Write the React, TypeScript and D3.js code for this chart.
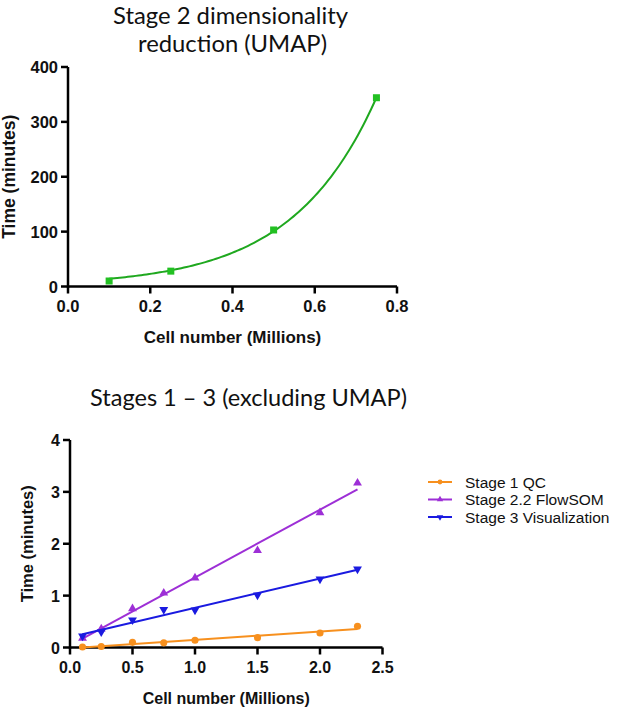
import React, { useEffect } from 'react';
import * as d3 from 'd3';

// Stage 2 (UMAP) timings
const umapCells = [0.1, 0.25, 0.5, 0.75];
const umapTime = [10, 28, 103, 344];
const umapXTicks = [0, 0.2, 0.4, 0.6, 0.8];
const umapYTicks = [0, 100, 200, 300, 400];

// Stages 1-3 timings
const stageCells = [0.1, 0.25, 0.5, 0.75, 1.0, 1.5, 2.0, 2.3];
const qcTime = [0.01, 0.02, 0.1, 0.09, 0.14, 0.19, 0.28, 0.41];
const flowsomTime = [0.18, 0.36, 0.75, 1.05, 1.34, 1.87, 2.6, 3.17];
const vizTime = [0.22, 0.3, 0.53, 0.73, 0.72, 1.01, 1.32, 1.51];
const stageXTicks = [0, 0.5, 1.0, 1.5, 2.0, 2.5];
const stageYTicks = [0, 1, 2, 3, 4];
const seriesNames = ['Stage 1 QC', 'Stage 2.2 FlowSOM', 'Stage 3 Visualization'];
const seriesColors = ['#f7901e', '#9d2fd6', '#1a1ae0'];
const seriesShapes = [d3.symbolCircle, d3.symbolTriangle, d3.symbolTriangle];

const AXIS_FONT = 'Arial, "Liberation Sans", sans-serif';
const TITLE_FONT = 'Lato, "Open Sans", sans-serif';

// least squares y = a*exp(b*x), a solved for each b
const expFit = (xs: number[], ys: number[]) => {
  let best = { a: 0, b: 0, sse: Infinity };
  for (let b = 0.5; b <= 12; b += 0.01) {
    const num = d3.sum(xs, (x, i) => ys[i] * Math.exp(b * x));
    const den = d3.sum(xs, x => Math.exp(2 * b * x));
    const a = num / den;
    const sse = d3.sum(xs, (x, i) => (ys[i] - a * Math.exp(b * x)) ** 2);
    if (sse < best.sse) best = { a, b, sse };
  }
  return (x: number) => best.a * Math.exp(best.b * x);
};

const linFit = (xs: number[], ys: number[]) => {
  const mx = d3.mean(xs)!;
  const my = d3.mean(ys)!;
  const sxy = d3.sum(xs, (x, i) => (x - mx) * (ys[i] - my));
  const sxx = d3.sum(xs, x => (x - mx) ** 2);
  const slope = sxy / sxx;
  return (x: number) => my + slope * (x - mx);
};

const Axes = ({ x, y, xTicks, yTicks, xFmt, yFmt, xTitle, yTitle, yTitleX, tickSize, titleSize }: any) => {
  const [x0, x1] = x.range();
  const [y0, y1] = y.range();
  return (
    <g fontFamily={AXIS_FONT} fontWeight="bold" fill="#111">
      <line x1={x0} x2={x1} y1={y0} y2={y0} stroke="#000" strokeWidth={2.5} />
      <line x1={x0} x2={x0} y1={y0 + 1.2} y2={y1} stroke="#000" strokeWidth={2.5} />
      {xTicks.map((t: number) => (
        <g key={'x' + t}>
          <line x1={x(t)} x2={x(t)} y1={y0} y2={y0 + 7} stroke="#000" strokeWidth={2.5} />
          <text x={x(t)} y={y0 + 25} fontSize={tickSize} textAnchor="middle">{xFmt(t)}</text>
        </g>
      ))}
      {yTicks.map((t: number) => (
        <g key={'y' + t}>
          <line x1={x0 - 7} x2={x0} y1={y(t)} y2={y(t)} stroke="#000" strokeWidth={2.5} />
          <text x={x0 - 10} y={y(t) + 6} fontSize={tickSize} textAnchor="end">{yFmt(t)}</text>
        </g>
      ))}
      <text x={(x0 + x1) / 2} y={y0 + 56} fontSize={titleSize} textAnchor="middle">{xTitle}</text>
      <text transform={`translate(${yTitleX},${(y0 + y1) / 2}) rotate(-90)`} fontSize={titleSize + 0.5}
        textAnchor="middle">{yTitle}</text>
    </g>
  );
};

const App = () => {
  useEffect(() => {
    document.body.style.margin = '0';
  }, []);

  // top chart
  const ux = d3.scaleLinear().domain([0, 0.8]).range([68, 397]);
  const uy = d3.scaleLinear().domain([0, 400]).range([286.5, 67]);
  const umapCurve = expFit(umapCells, umapTime);
  const curveXs = d3.range(101).map(i => 0.1 + (0.65 * i) / 100);
  const umapPath = d3.line<number>().x(d => ux(d)).y(d => uy(umapCurve(d)))(curveXs);

  // bottom chart
  const sx = d3.scaleLinear().domain([0, 2.5]).range([70, 382.5]);
  const sy = d3.scaleLinear().domain([0, 4]).range([647.5, 440]);
  const series = [qcTime, flowsomTime, vizTime];
  const xExtent = d3.extent(stageCells) as [number, number];

  const symbolPath = (i: number, size: number) => d3.symbol().type(seriesShapes[i]).size(size)()!;

  return (
    <svg width={617} height={707} style={{ display: 'block', background: '#fff' }}>
      <g fontFamily={TITLE_FONT} fontSize={24} fill="#111" textAnchor="middle">
        <text x={230.5} y={23.5} textLength={235} lengthAdjust="spacingAndGlyphs">Stage 2 dimensionality</text>
        <text x={232.5} y={52} textLength={189} lengthAdjust="spacingAndGlyphs">reduction (UMAP)</text>
        <text x={248.5} y={406} textLength={317} lengthAdjust="spacingAndGlyphs">Stages 1 – 3 (excluding UMAP)</text>
      </g>

      <Axes x={ux} y={uy} xTicks={umapXTicks} yTicks={umapYTicks}
        xFmt={d3.format('.1f')} yFmt={d3.format('d')} tickSize={16.5} titleSize={17}
        xTitle="Cell number (Millions)" yTitle="Time (minutes)" yTitleX={15} />
      <path d={umapPath!} fill="none" stroke="#1fa81f" strokeWidth={2} />
      {umapCells.map((c, i) => (
        <rect key={c} x={ux(c) - 3.5} y={uy(umapTime[i]) - 3.5} width={7} height={7} fill="#22c022" />
      ))}

      <Axes x={sx} y={sy} xTicks={stageXTicks} yTicks={stageYTicks}
        xFmt={d3.format('.1f')} yFmt={d3.format('d')} tickSize={16} titleSize={16}
        xTitle="Cell number (Millions)" yTitle="Time (minutes)" yTitleX={33} />
      {series.map((vals, si) => {
        const fit = linFit(stageCells, vals);
        return (
          <g key={si}>
            <line x1={sx(xExtent[0])} x2={sx(xExtent[1])} y1={sy(fit(xExtent[0]))} y2={sy(fit(xExtent[1]))}
              stroke={seriesColors[si]} strokeWidth={2} />
            {stageCells.map((c, i) => (
              <path key={c} d={symbolPath(si, si === 0 ? 40 : 34)}
                transform={`translate(${sx(c)},${sy(vals[i])})${si === 2 ? ' rotate(180)' : ''}`}
                fill={seriesColors[si]} />
            ))}
          </g>
        );
      })}

      <g fontFamily={AXIS_FONT} fontSize={15.5} fill="#111">
        {seriesNames.map((name, i) => {
          const y = 482 + i * 17.5;
          return (
            <g key={name}>
              <line x1={428} x2={452} y1={y} y2={y} stroke={seriesColors[i]} strokeWidth={2} />
              <path d={symbolPath(i, 18)} transform={`translate(440,${y})${i === 2 ? ' rotate(180)' : ''}`} fill={seriesColors[i]} />
              <text x={465} y={y + 5.5}>{name}</text>
            </g>
          );
        })}
      </g>
    </svg>
  );
};

export default App;
